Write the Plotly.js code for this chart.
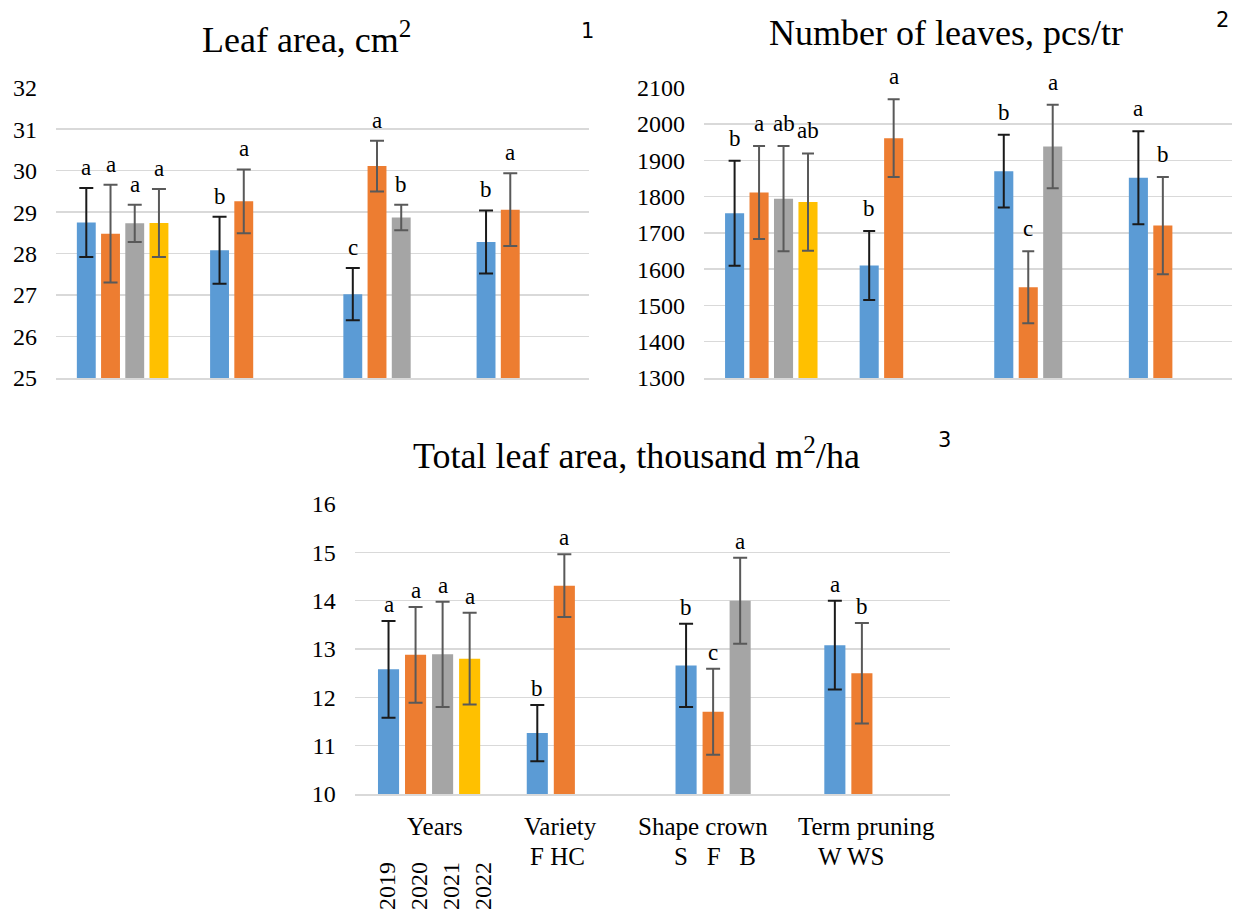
<!DOCTYPE html>
<html>
<head>
<meta charset="utf-8">
<script src="https://cdn.plot.ly/plotly-3.0.1.min.js"></script>
<style>html,body{margin:0;padding:0;background:#fff;} #chart{width:1233px;height:912px;}</style>
</head>
<body>
<div id="chart"></div>
<script>
// ---------- data ----------
const categories = ["Years", "Variety", "Shape crown", "Term pruning"];

// Chart 1: Leaf area, cm2
const leafArea_s1 = [28.75, 28.08, 27.02, 28.28];
const leafArea_s2 = [28.48, 29.26, 30.11, 29.06];
const leafArea_s3 = [28.73, null, 28.87, null];
const leafArea_s4 = [28.74, null, null, null];
const leafAreaErr_s1 = [0.83, 0.81, 0.63, 0.76];
const leafAreaErr_s2 = [1.18, 0.77, 0.61, 0.88];
const leafAreaErr_s3 = [0.45, null, 0.31, null];
const leafAreaErr_s4 = [0.82, null, null, null];
const leafAreaLbl_s1 = ["a", "b", "c", "b"];
const leafAreaLbl_s2 = ["a", "a", "a", "a"];
const leafAreaLbl_s3 = ["a", null, "b", null];
const leafAreaLbl_s4 = ["a", null, null, null];

// Chart 2: Number of leaves, pcs/tr
const leaves_s1 = [1754, 1610, 1870, 1852];
const leaves_s2 = [1811, 1961, 1550, 1720];
const leaves_s3 = [1794, null, 1938, null];
const leaves_s4 = [1785, null, null, null];
const leavesErr_s1 = [145, 95, 100, 128];
const leavesErr_s2 = [128, 107, 99, 134];
const leavesErr_s3 = [145, null, 115, null];
const leavesErr_s4 = [134, null, null, null];
const leavesLbl_s1 = ["b", "b", "b", "a"];
const leavesLbl_s2 = ["a", "a", "c", "b"];
const leavesLbl_s3 = ["ab", null, "a", null];
const leavesLbl_s4 = ["ab", null, null, null];

// Chart 3: Total leaf area, thousand m2/ha
const total_s1 = [12.58, 11.26, 12.66, 13.08];
const total_s2 = [12.88, 14.31, 11.70, 12.50];
const total_s3 = [12.89, null, 14.00, null];
const total_s4 = [12.80, null, null, null];
const totalErr_s1 = [1.00, 0.58, 0.86, 0.92];
const totalErr_s2 = [0.99, 0.65, 0.89, 1.04];
const totalErr_s3 = [1.09, null, 0.89, null];
const totalErr_s4 = [0.95, null, null, null];
const totalLbl_s1 = ["a", "b", "b", "a"];
const totalLbl_s2 = ["a", "a", "c", "b"];
const totalLbl_s3 = ["a", null, "a", null];
const totalLbl_s4 = ["a", null, null, null];

// x-axis labels (chart 3)
const groupLabels = ["Years", "Variety", "Shape crown", "Term pruning"];
const subLabels = ["F HC", "S&nbsp;&nbsp;&nbsp;F&nbsp;&nbsp;&nbsp;B", "W WS"];
const yearLabels = ["2019", "2020", "2021", "2022"];

// ---------- style ----------
const colors = ["#5b9bd5", "#ed7d31", "#a5a5a5", "#ffc000"];
const errColors = ["#1a1a1a", "#595959", "#595959", "#595959"];
const SERIF = "Liberation Serif";
const SANS = "DejaVu Sans";
const W = 1233, H = 912;
const BARGAP = 0.273, NSLOT = 4;
const px = x => x / W;
const py = y => 1 - y / H;

const traces = [];
const annotations = [];

function addChart(xa, ya, series, errs, lbls, capw, lblShift) {
  series.forEach((vals, i) => {
    traces.push({
      type: "bar", x: categories, y: vals,
      xaxis: xa, yaxis: ya,
      marker: {color: colors[i]},
      error_y: {type: "data", array: errs[i], visible: true, color: errColors[i], thickness: 2, width: capw},
      showlegend: false, hoverinfo: "y"
    });
    const slotW = (1 - BARGAP) / NSLOT;
    vals.forEach((v, j) => {
      if (v === null || lbls[i][j] === null) return;
      annotations.push({
        xref: xa, yref: ya,
        x: j + (i - (NSLOT - 1) / 2) * slotW,
        y: v + errs[i][j],
        text: lbls[i][j], showarrow: false,
        xanchor: "center", yanchor: "bottom", yshift: lblShift,
        font: {family: SERIF, size: 23, color: "#000"}
      });
    });
  });
}

addChart("x", "y",
  [leafArea_s1, leafArea_s2, leafArea_s3, leafArea_s4],
  [leafAreaErr_s1, leafAreaErr_s2, leafAreaErr_s3, leafAreaErr_s4],
  [leafAreaLbl_s1, leafAreaLbl_s2, leafAreaLbl_s3, leafAreaLbl_s4], 7, 6);
addChart("x2", "y2",
  [leaves_s1, leaves_s2, leaves_s3, leaves_s4],
  [leavesErr_s1, leavesErr_s2, leavesErr_s3, leavesErr_s4],
  [leavesLbl_s1, leavesLbl_s2, leavesLbl_s3, leavesLbl_s4], 6, 8);
addChart("x3", "y3",
  [total_s1, total_s2, total_s3, total_s4],
  [totalErr_s1, totalErr_s2, totalErr_s3, totalErr_s4],
  [totalLbl_s1, totalLbl_s2, totalLbl_s3, totalLbl_s4], 7, 2);

// free texts
function addText(x, y, text, size, family, extra) {
  annotations.push(Object.assign({
    xref: "paper", yref: "paper", x: px(x), y: py(y), text: text, showarrow: false,
    xanchor: "center", yanchor: "middle", font: {family: family, size: size, color: "#000"}
  }, extra || {}));
}
addText(306, 37, "Leaf area, cm<sup>2</sup>", 36, SERIF);
addText(946, 33, "Number of leaves, pcs/tr", 36, SERIF);
addText(636, 454, "Total leaf area, thousand m<sup>2</sup>/ha", 36, SERIF);
addText(587, 31, "1", 21, SANS);
addText(1222, 20, "2", 21, SANS);
addText(944, 440, "3", 21, SANS);

// chart 3 x labels
const groupX = [435, 560, 703, 866];
const subX = [557, 715, 851];
groupLabels.forEach((t, i) => addText(groupX[i], 826, t, 25, SERIF));
subLabels.forEach((t, i) => addText(subX[i], 856, t, 25, SERIF));
const yearX = [387, 419, 451, 483];
yearLabels.forEach((t, i) => addText(yearX[i], 861, t, 24, SERIF, {textangle: -90, yanchor: "top", borderpad: 0}));

const yax = (dom, range, dtick) => ({
  domain: dom, range: range, dtick: dtick, tick0: range[0],
  showgrid: true, gridcolor: "#d9d9d9", gridwidth: 1.5,
  zeroline: false, showline: false, ticks: "", ticklabelstandoff: 18,
  tickfont: {family: SERIF, size: 24, color: "#000"}, fixedrange: true
});
const xax = (dom, range, anchor) => ({
  domain: dom, range: range, type: "category", anchor: anchor,
  showgrid: false, zeroline: false, showline: true, linecolor: "#d9d9d9", linewidth: 1.5,
  showticklabels: false, ticks: "", fixedrange: true
});

const layout = {
  width: W, height: H,
  margin: {l: 0, r: 0, t: 0, b: 0},
  paper_bgcolor: "#fff", plot_bgcolor: "#fff",
  font: {family: SERIF, color: "#000"},
  barmode: "group", bargap: BARGAP, bargroupgap: 0.22,
  showlegend: false,
  xaxis: xax([px(56), px(589)], [-0.5, 3.5], "y"),
  yaxis: Object.assign(yax([py(378), py(87.7)], [25, 32], 1), {anchor: "x"}),
  xaxis2: xax([px(704), px(1232)], [-0.5, 3.423], "y2"),
  yaxis2: Object.assign(yax([py(378), py(87.7)], [1300, 2100], 100), {anchor: "x2"}),
  xaxis3: xax([px(354.7), px(949.8)], [-0.5, 3.5], "y3"),
  yaxis3: Object.assign(yax([py(794), py(504)], [10, 16], 1), {anchor: "x3"}),
  annotations: annotations
};

Plotly.newPlot("chart", traces, layout, {staticPlot: true, displayModeBar: false});
</script>
</body>
</html>
